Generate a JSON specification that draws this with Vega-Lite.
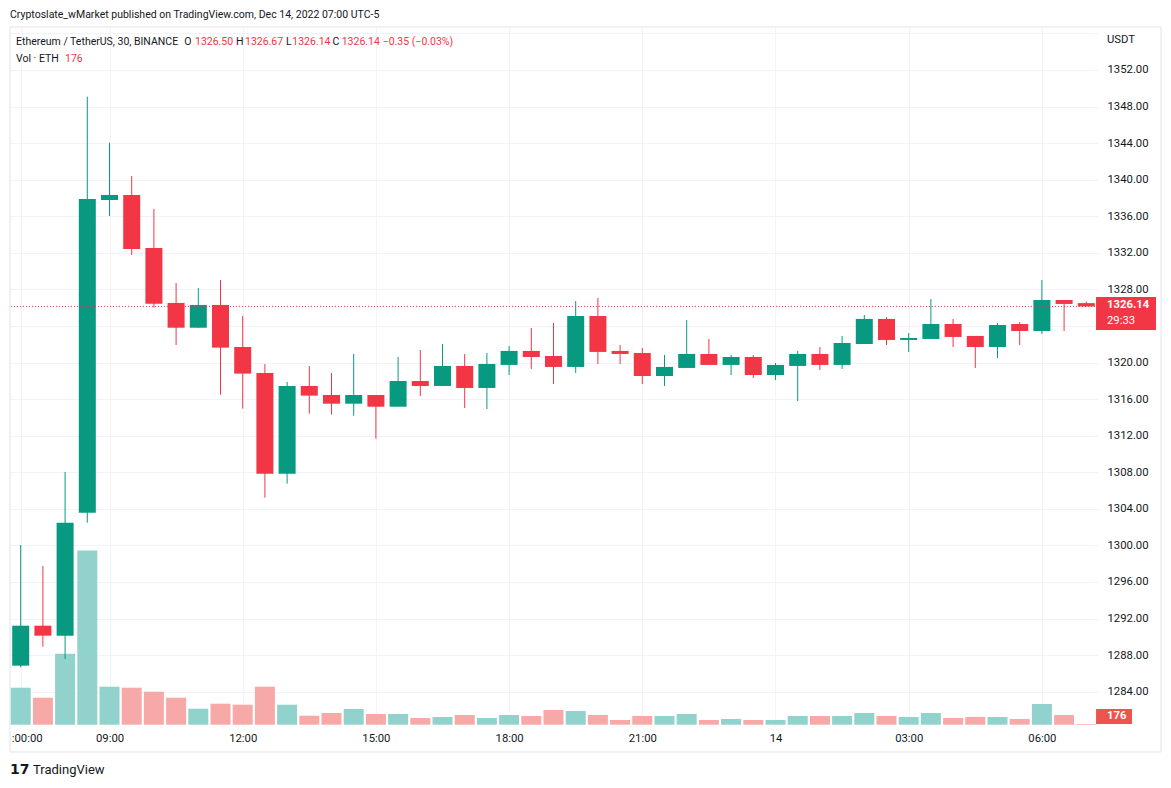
{
  "$schema": "https://vega.github.io/schema/vega-lite/v6.json",
  "width": 1088,
  "height": 700,
  "autosize": {"type": "none"},
  "padding": {"left": 10, "top": 27, "right": 73, "bottom": 61},
  "background": "#ffffff",
  "config": {"view": {"stroke": null}},
  "data": {"values": [
    {"t": "2022-12-13T07:00:00Z", "open": 1286.85, "high": 1300.05, "low": 1286.68, "close": 1291.22, "volume": 9250},
    {"t": "2022-12-13T07:30:00Z", "open": 1291.22, "high": 1297.75, "low": 1288.92, "close": 1290.13, "volume": 6750},
    {"t": "2022-12-13T08:00:00Z", "open": 1290.13, "high": 1308.03, "low": 1287.58, "close": 1302.49, "volume": 17750},
    {"t": "2022-12-13T08:30:00Z", "open": 1303.58, "high": 1349.08, "low": 1302.49, "close": 1337.89, "volume": 43575},
    {"t": "2022-12-13T09:00:00Z", "open": 1337.78, "high": 1344.05, "low": 1336.03, "close": 1338.33, "volume": 9500},
    {"t": "2022-12-13T09:30:00Z", "open": 1338.33, "high": 1340.41, "low": 1331.77, "close": 1332.42, "volume": 9250},
    {"t": "2022-12-13T10:00:00Z", "open": 1332.53, "high": 1336.80, "low": 1326.00, "close": 1326.44, "volume": 8250},
    {"t": "2022-12-13T10:30:00Z", "open": 1326.52, "high": 1328.70, "low": 1321.92, "close": 1323.81, "volume": 6750},
    {"t": "2022-12-13T11:00:00Z", "open": 1323.81, "high": 1328.16, "low": 1323.81, "close": 1326.30, "volume": 4000},
    {"t": "2022-12-13T11:30:00Z", "open": 1326.30, "high": 1329.03, "low": 1316.49, "close": 1321.63, "volume": 5250},
    {"t": "2022-12-13T12:00:00Z", "open": 1321.70, "high": 1325.10, "low": 1314.96, "close": 1318.79, "volume": 5000},
    {"t": "2022-12-13T12:30:00Z", "open": 1318.86, "high": 1319.84, "low": 1305.22, "close": 1307.85, "volume": 9500},
    {"t": "2022-12-13T13:00:00Z", "open": 1307.85, "high": 1317.88, "low": 1306.75, "close": 1317.44, "volume": 5000},
    {"t": "2022-12-13T13:30:00Z", "open": 1317.44, "high": 1319.62, "low": 1314.41, "close": 1316.38, "volume": 2250},
    {"t": "2022-12-13T14:00:00Z", "open": 1316.45, "high": 1318.86, "low": 1314.30, "close": 1315.50, "volume": 2925},
    {"t": "2022-12-13T14:30:00Z", "open": 1315.50, "high": 1320.94, "low": 1314.19, "close": 1316.45, "volume": 3925},
    {"t": "2022-12-13T15:00:00Z", "open": 1316.45, "high": 1316.45, "low": 1311.67, "close": 1315.17, "volume": 2675},
    {"t": "2022-12-13T15:30:00Z", "open": 1315.17, "high": 1320.61, "low": 1315.17, "close": 1317.98, "volume": 2675},
    {"t": "2022-12-13T16:00:00Z", "open": 1317.98, "high": 1321.38, "low": 1316.34, "close": 1317.44, "volume": 1675},
    {"t": "2022-12-13T16:30:00Z", "open": 1317.44, "high": 1322.03, "low": 1317.44, "close": 1319.63, "volume": 1925},
    {"t": "2022-12-13T17:00:00Z", "open": 1319.63, "high": 1320.94, "low": 1315.03, "close": 1317.22, "volume": 2425},
    {"t": "2022-12-13T17:30:00Z", "open": 1317.22, "high": 1321.05, "low": 1314.92, "close": 1319.84, "volume": 1675},
    {"t": "2022-12-13T18:00:00Z", "open": 1319.74, "high": 1321.81, "low": 1318.64, "close": 1321.27, "volume": 2425},
    {"t": "2022-12-13T18:30:00Z", "open": 1321.27, "high": 1323.78, "low": 1319.30, "close": 1320.61, "volume": 2175},
    {"t": "2022-12-13T19:00:00Z", "open": 1320.72, "high": 1324.33, "low": 1317.66, "close": 1319.52, "volume": 3675},
    {"t": "2022-12-13T19:30:00Z", "open": 1319.52, "high": 1326.73, "low": 1318.86, "close": 1325.09, "volume": 3425},
    {"t": "2022-12-13T20:00:00Z", "open": 1325.09, "high": 1327.06, "low": 1319.84, "close": 1321.16, "volume": 2425},
    {"t": "2022-12-13T20:30:00Z", "open": 1321.27, "high": 1321.92, "low": 1319.84, "close": 1320.94, "volume": 1175},
    {"t": "2022-12-13T21:00:00Z", "open": 1321.05, "high": 1321.59, "low": 1317.66, "close": 1318.53, "volume": 2175},
    {"t": "2022-12-13T21:30:00Z", "open": 1318.53, "high": 1320.83, "low": 1317.44, "close": 1319.52, "volume": 2175},
    {"t": "2022-12-13T22:00:00Z", "open": 1319.41, "high": 1324.66, "low": 1319.41, "close": 1320.94, "volume": 2675},
    {"t": "2022-12-13T22:30:00Z", "open": 1320.94, "high": 1322.58, "low": 1319.74, "close": 1319.74, "volume": 1175},
    {"t": "2022-12-13T23:00:00Z", "open": 1319.74, "high": 1320.83, "low": 1318.64, "close": 1320.61, "volume": 1425},
    {"t": "2022-12-13T23:30:00Z", "open": 1320.61, "high": 1320.83, "low": 1318.31, "close": 1318.64, "volume": 1175},
    {"t": "2022-12-14T00:00:00Z", "open": 1318.64, "high": 1319.95, "low": 1318.10, "close": 1319.74, "volume": 1175},
    {"t": "2022-12-14T00:30:00Z", "open": 1319.63, "high": 1321.27, "low": 1315.80, "close": 1320.94, "volume": 2175},
    {"t": "2022-12-14T01:00:00Z", "open": 1320.94, "high": 1321.70, "low": 1319.19, "close": 1319.74, "volume": 2175},
    {"t": "2022-12-14T01:30:00Z", "open": 1319.74, "high": 1322.91, "low": 1319.30, "close": 1322.14, "volume": 2175},
    {"t": "2022-12-14T02:00:00Z", "open": 1322.03, "high": 1325.20, "low": 1322.03, "close": 1324.77, "volume": 2925},
    {"t": "2022-12-14T02:30:00Z", "open": 1324.77, "high": 1324.98, "low": 1321.92, "close": 1322.47, "volume": 2175},
    {"t": "2022-12-14T03:00:00Z", "open": 1322.47, "high": 1323.23, "low": 1321.16, "close": 1322.69, "volume": 1925},
    {"t": "2022-12-14T03:30:00Z", "open": 1322.58, "high": 1326.95, "low": 1322.58, "close": 1324.22, "volume": 2925},
    {"t": "2022-12-14T04:00:00Z", "open": 1324.22, "high": 1324.77, "low": 1321.70, "close": 1322.80, "volume": 1675},
    {"t": "2022-12-14T04:30:00Z", "open": 1322.91, "high": 1322.91, "low": 1319.41, "close": 1321.70, "volume": 1925},
    {"t": "2022-12-14T05:00:00Z", "open": 1321.70, "high": 1324.33, "low": 1320.50, "close": 1324.11, "volume": 1925},
    {"t": "2022-12-14T05:30:00Z", "open": 1324.22, "high": 1324.44, "low": 1321.92, "close": 1323.45, "volume": 1425},
    {"t": "2022-12-14T06:00:00Z", "open": 1323.45, "high": 1329.03, "low": 1323.13, "close": 1326.84, "volume": 5175},
    {"t": "2022-12-14T06:30:00Z", "open": 1326.84, "high": 1326.84, "low": 1323.45, "close": 1326.41, "volume": 2425},
    {"t": "2022-12-14T07:00:00Z", "open": 1326.50, "high": 1326.67, "low": 1326.14, "close": 1326.14, "volume": 176}
  ]},
  "resolve": {"scale": {"y": "independent"}, "axis": {"y": "independent"}},
  "layer": [
    {
      "mark": {"type": "bar", "width": 20},
      "encoding": {
        "x": {"field": "t", "type": "temporal",
          "scale": {"type": "utc", "nice": false, "padding": 0,
            "domain": [{"year": 2022, "month": 12, "date": 13, "hours": 6, "minutes": 45, "seconds": 32, "utc": true},
                       {"year": 2022, "month": 12, "date": 14, "hours": 7, "minutes": 15, "seconds": 49, "utc": true}]},
          "axis": {
            "orient": "bottom", "title": null, "domain": false, "ticks": false, "tickSize": 0,
            "grid": true, "gridColor": "#F0F3FA", "gridWidth": 1,
            "labelFont": "Roboto", "labelFontSize": 11.3, "labelColor": "#131722",
            "labelPadding": 11, "labelBaseline": "middle", "labelFlush": false, "labelOverlap": false,
            "values": [
              {"year": 2022, "month": 12, "date": 13, "hours": 7, "utc": true},
              {"year": 2022, "month": 12, "date": 13, "hours": 9, "utc": true},
              {"year": 2022, "month": 12, "date": 13, "hours": 12, "utc": true},
              {"year": 2022, "month": 12, "date": 13, "hours": 15, "utc": true},
              {"year": 2022, "month": 12, "date": 13, "hours": 18, "utc": true},
              {"year": 2022, "month": 12, "date": 13, "hours": 21, "utc": true},
              {"year": 2022, "month": 12, "date": 14, "hours": 0, "utc": true},
              {"year": 2022, "month": 12, "date": 14, "hours": 3, "utc": true},
              {"year": 2022, "month": 12, "date": 14, "hours": 6, "utc": true}
            ],
            "labelExpr": "utchours(datum.value) == 7 ? ':00:00' : (utchours(datum.value) == 0 ? '14' : utcFormat(datum.value, '%H:%M'))",
            "labelOffset": {"condition": {"test": "utchours(datum.value) == 7", "value": 6}, "value": 0}
          }
        },
        "y": {"field": "volume", "type": "quantitative",
          "scale": {"domain": [-575, 174425], "nice": false, "zero": false}, "axis": null},
        "y2": {"datum": 0},
        "color": {"condition": {"test": "datum.close >= datum.open", "value": "#92D2CC"}, "value": "#F7A9A7"}
      }
    },
    {
      "mark": {"type": "rule", "strokeWidth": 1, "opacity": 1},
      "encoding": {
        "x": {"field": "t", "type": "temporal"},
        "y": {"field": "low", "type": "quantitative",
          "scale": {"domain": [1280.14, 1356.70], "nice": false, "zero": false},
          "axis": {
            "orient": "right", "title": null, "domain": false, "ticks": false, "tickSize": 0,
            "grid": true, "gridColor": "#F0F3FA", "gridWidth": 1,
            "values": [1284, 1288, 1292, 1296, 1300, 1304, 1308, 1312, 1316, 1320, 1324, 1328, 1332, 1336, 1340, 1344, 1348, 1352, 1356],
            "labelExpr": "(datum.value > 1354 || datum.value == 1324) ? '' : format(datum.value, '.2f')",
            "labelFont": "Roboto", "labelFontSize": 11.3, "labelColor": "#131722",
            "labelPadding": 9, "labelFlush": false, "labelOverlap": false
          }
        },
        "y2": {"field": "high"},
        "stroke": {"condition": {"test": "datum.close >= datum.open", "value": "#089981"}, "value": "#F23645"}
      }
    },
    {
      "mark": {"type": "bar", "width": 17},
      "encoding": {
        "x": {"field": "t", "type": "temporal"},
        "y": {"field": "open", "type": "quantitative",
          "scale": {"domain": [1280.14, 1356.70], "nice": false, "zero": false}, "axis": null},
        "y2": {"field": "close"},
        "color": {"condition": {"test": "datum.close >= datum.open", "value": "#089981"}, "value": "#F23645"}
      }
    },
    {
      "data": {"values": [{}]},
      "mark": {"type": "rect", "fill": null, "fillOpacity": 0, "stroke": "#E0E3EB", "strokeWidth": 1},
      "encoding": {
        "x": {"datum": {"year": 2022, "month": 12, "date": 13, "hours": 6, "minutes": 45, "seconds": 32, "utc": true}, "type": "temporal"},
        "x2": {"datum": {"year": 2022, "month": 12, "date": 14, "hours": 8, "minutes": 40, "seconds": 57, "utc": true}},
        "y": {"datum": 1356.70, "type": "quantitative", "scale": {"domain": [1280.14, 1356.70], "nice": false, "zero": false}, "axis": null},
        "y2": {"datum": 1277.41}
      }
    },
    {
      "data": {"values": [{}]},
      "mark": {"type": "rule", "color": "#F23645", "strokeWidth": 1, "strokeDash": [1, 2]},
      "encoding": {
        "y": {"datum": 1326.14, "type": "quantitative", "scale": {"domain": [1280.14, 1356.70], "nice": false, "zero": false}, "axis": null}
      }
    },
    {
      "data": {"values": [{}]},
      "mark": {"type": "rect", "color": "#F23645"},
      "encoding": {
        "x": {"datum": {"year": 2022, "month": 12, "date": 14, "hours": 7, "minutes": 13, "seconds": 10, "utc": true}, "type": "temporal"},
        "x2": {"datum": {"year": 2022, "month": 12, "date": 14, "hours": 8, "minutes": 34, "seconds": 12, "utc": true}},
        "y": {"datum": 1327.17, "type": "quantitative", "scale": {"domain": [1280.14, 1356.70], "nice": false, "zero": false}, "axis": null},
        "y2": {"datum": 1323.56}
      }
    },
    {
      "data": {"values": [{}]},
      "mark": {"type": "rect", "color": "#EF5350"},
      "encoding": {
        "x": {"datum": {"year": 2022, "month": 12, "date": 14, "hours": 7, "minutes": 13, "seconds": 10, "utc": true}, "type": "temporal"},
        "x2": {"datum": {"year": 2022, "month": 12, "date": 14, "hours": 8, "minutes": 1, "seconds": 48, "utc": true}},
        "y": {"datum": 1282.11, "type": "quantitative", "scale": {"domain": [1280.14, 1356.70], "nice": false, "zero": false}, "axis": null},
        "y2": {"datum": 1280.47}
      }
    },
    {
      "data": {"values": [{}]},
      "mark": {"type": "text", "text": "1326.14", "align": "left", "baseline": "middle", "dx": 9, "font": "Roboto", "fontSize": 11.3, "fontWeight": "bold", "color": "#ffffff"},
      "encoding": {
        "x": {"datum": {"year": 2022, "month": 12, "date": 14, "hours": 7, "minutes": 15, "seconds": 49, "utc": true}, "type": "temporal"},
        "y": {"datum": 1326.30, "type": "quantitative", "scale": {"domain": [1280.14, 1356.70], "nice": false, "zero": false}, "axis": null}
      }
    },
    {
      "data": {"values": [{}]},
      "mark": {"type": "text", "text": "29:33", "align": "left", "baseline": "middle", "dx": 9, "font": "Roboto", "fontSize": 11.3, "color": "#ffffff"},
      "encoding": {
        "x": {"datum": {"year": 2022, "month": 12, "date": 14, "hours": 7, "minutes": 15, "seconds": 49, "utc": true}, "type": "temporal"},
        "y": {"datum": 1324.55, "type": "quantitative", "scale": {"domain": [1280.14, 1356.70], "nice": false, "zero": false}, "axis": null}
      }
    },
    {
      "data": {"values": [{}]},
      "mark": {"type": "text", "text": "176", "align": "left", "baseline": "middle", "dx": 9, "font": "Roboto", "fontSize": 11.3, "fontWeight": "bold", "color": "#ffffff"},
      "encoding": {
        "x": {"datum": {"year": 2022, "month": 12, "date": 14, "hours": 7, "minutes": 15, "seconds": 49, "utc": true}, "type": "temporal"},
        "y": {"datum": 1281.29, "type": "quantitative", "scale": {"domain": [1280.14, 1356.70], "nice": false, "zero": false}, "axis": null}
      }
    },
    {
      "data": {"values": [{}]},
      "mark": {"type": "text", "text": "USDT", "align": "left", "baseline": "middle", "dx": 9, "font": "Roboto", "fontSize": 11.3, "color": "#131722"},
      "encoding": {
        "x": {"datum": {"year": 2022, "month": 12, "date": 14, "hours": 7, "minutes": 15, "seconds": 49, "utc": true}, "type": "temporal"},
        "y": {"datum": 1355.28, "type": "quantitative", "scale": {"domain": [1280.14, 1356.70], "nice": false, "zero": false}, "axis": null}
      }
    },
    {
      "data": {"values": [{}]},
      "mark": {"type": "text", "text": "Cryptoslate_wMarket published on TradingView.com, Dec 14, 2022 07:00 UTC-5", "align": "left", "baseline": "middle", "font": "Roboto", "fontSize": 10.5, "color": "#131722"},
      "encoding": {
        "x": {"datum": {"year": 2022, "month": 12, "date": 13, "hours": 6, "minutes": 45, "seconds": 32, "utc": true}, "type": "temporal"},
        "y": {"datum": 1358.02, "type": "quantitative", "scale": {"domain": [1280.14, 1356.70], "nice": false, "zero": false}, "axis": null}
      }
    },
    {
      "data": {"values": [{}]},
      "mark": {"type": "text", "text": "Ethereum / TetherUS, 30, BINANCE", "align": "left", "baseline": "middle", "dx": 6, "font": "Roboto", "fontSize": 10.5, "color": "#131722"},
      "encoding": {
        "x": {"datum": {"year": 2022, "month": 12, "date": 13, "hours": 6, "minutes": 45, "seconds": 32, "utc": true}, "type": "temporal"},
        "y": {"datum": 1355.06, "type": "quantitative", "scale": {"domain": [1280.14, 1356.70], "nice": false, "zero": false}, "axis": null}
      }
    },
    {
      "data": {"values": [{}]},
      "mark": {"type": "text", "text": "O", "align": "left", "baseline": "middle", "dx": 174.3, "font": "Roboto", "fontSize": 10.5, "color": "#131722"},
      "encoding": {
        "x": {"datum": {"year": 2022, "month": 12, "date": 13, "hours": 6, "minutes": 45, "seconds": 32, "utc": true}, "type": "temporal"},
        "y": {"datum": 1355.06, "type": "quantitative", "scale": {"domain": [1280.14, 1356.70], "nice": false, "zero": false}, "axis": null}
      }
    },
    {
      "data": {"values": [{}]},
      "mark": {"type": "text", "text": "1326.50", "align": "left", "baseline": "middle", "dx": 185, "font": "Roboto", "fontSize": 10.5, "color": "#F23645"},
      "encoding": {
        "x": {"datum": {"year": 2022, "month": 12, "date": 13, "hours": 6, "minutes": 45, "seconds": 32, "utc": true}, "type": "temporal"},
        "y": {"datum": 1355.06, "type": "quantitative", "scale": {"domain": [1280.14, 1356.70], "nice": false, "zero": false}, "axis": null}
      }
    },
    {
      "data": {"values": [{}]},
      "mark": {"type": "text", "text": "H", "align": "left", "baseline": "middle", "dx": 226, "font": "Roboto", "fontSize": 10.5, "color": "#131722"},
      "encoding": {
        "x": {"datum": {"year": 2022, "month": 12, "date": 13, "hours": 6, "minutes": 45, "seconds": 32, "utc": true}, "type": "temporal"},
        "y": {"datum": 1355.06, "type": "quantitative", "scale": {"domain": [1280.14, 1356.70], "nice": false, "zero": false}, "axis": null}
      }
    },
    {
      "data": {"values": [{}]},
      "mark": {"type": "text", "text": "1326.67", "align": "left", "baseline": "middle", "dx": 235, "font": "Roboto", "fontSize": 10.5, "color": "#F23645"},
      "encoding": {
        "x": {"datum": {"year": 2022, "month": 12, "date": 13, "hours": 6, "minutes": 45, "seconds": 32, "utc": true}, "type": "temporal"},
        "y": {"datum": 1355.06, "type": "quantitative", "scale": {"domain": [1280.14, 1356.70], "nice": false, "zero": false}, "axis": null}
      }
    },
    {
      "data": {"values": [{}]},
      "mark": {"type": "text", "text": "L", "align": "left", "baseline": "middle", "dx": 276, "font": "Roboto", "fontSize": 10.5, "color": "#131722"},
      "encoding": {
        "x": {"datum": {"year": 2022, "month": 12, "date": 13, "hours": 6, "minutes": 45, "seconds": 32, "utc": true}, "type": "temporal"},
        "y": {"datum": 1355.06, "type": "quantitative", "scale": {"domain": [1280.14, 1356.70], "nice": false, "zero": false}, "axis": null}
      }
    },
    {
      "data": {"values": [{}]},
      "mark": {"type": "text", "text": "1326.14", "align": "left", "baseline": "middle", "dx": 282.3, "font": "Roboto", "fontSize": 10.5, "color": "#F23645"},
      "encoding": {
        "x": {"datum": {"year": 2022, "month": 12, "date": 13, "hours": 6, "minutes": 45, "seconds": 32, "utc": true}, "type": "temporal"},
        "y": {"datum": 1355.06, "type": "quantitative", "scale": {"domain": [1280.14, 1356.70], "nice": false, "zero": false}, "axis": null}
      }
    },
    {
      "data": {"values": [{}]},
      "mark": {"type": "text", "text": "C", "align": "left", "baseline": "middle", "dx": 322.5, "font": "Roboto", "fontSize": 10.5, "color": "#131722"},
      "encoding": {
        "x": {"datum": {"year": 2022, "month": 12, "date": 13, "hours": 6, "minutes": 45, "seconds": 32, "utc": true}, "type": "temporal"},
        "y": {"datum": 1355.06, "type": "quantitative", "scale": {"domain": [1280.14, 1356.70], "nice": false, "zero": false}, "axis": null}
      }
    },
    {
      "data": {"values": [{}]},
      "mark": {"type": "text", "text": "1326.14", "align": "left", "baseline": "middle", "dx": 331.7, "font": "Roboto", "fontSize": 10.5, "color": "#F23645"},
      "encoding": {
        "x": {"datum": {"year": 2022, "month": 12, "date": 13, "hours": 6, "minutes": 45, "seconds": 32, "utc": true}, "type": "temporal"},
        "y": {"datum": 1355.06, "type": "quantitative", "scale": {"domain": [1280.14, 1356.70], "nice": false, "zero": false}, "axis": null}
      }
    },
    {
      "data": {"values": [{}]},
      "mark": {"type": "text", "text": "−0.35 (−0.03%)", "align": "left", "baseline": "middle", "dx": 372.7, "font": "Roboto", "fontSize": 10.5, "color": "#F23645"},
      "encoding": {
        "x": {"datum": {"year": 2022, "month": 12, "date": 13, "hours": 6, "minutes": 45, "seconds": 32, "utc": true}, "type": "temporal"},
        "y": {"datum": 1355.06, "type": "quantitative", "scale": {"domain": [1280.14, 1356.70], "nice": false, "zero": false}, "axis": null}
      }
    },
    {
      "data": {"values": [{}]},
      "mark": {"type": "text", "text": "Vol · ETH", "align": "left", "baseline": "middle", "dx": 6, "font": "Roboto", "fontSize": 10.5, "color": "#131722"},
      "encoding": {
        "x": {"datum": {"year": 2022, "month": 12, "date": 13, "hours": 6, "minutes": 45, "seconds": 32, "utc": true}, "type": "temporal"},
        "y": {"datum": 1353.2, "type": "quantitative", "scale": {"domain": [1280.14, 1356.70], "nice": false, "zero": false}, "axis": null}
      }
    },
    {
      "data": {"values": [{}]},
      "mark": {"type": "text", "text": "176", "align": "left", "baseline": "middle", "dx": 55, "font": "Roboto", "fontSize": 10.5, "color": "#F23645"},
      "encoding": {
        "x": {"datum": {"year": 2022, "month": 12, "date": 13, "hours": 6, "minutes": 45, "seconds": 32, "utc": true}, "type": "temporal"},
        "y": {"datum": 1353.2, "type": "quantitative", "scale": {"domain": [1280.14, 1356.70], "nice": false, "zero": false}, "axis": null}
      }
    },
    {
      "data": {"values": [{}]},
      "mark": {"type": "text", "text": "17", "align": "left", "baseline": "middle", "font": "DejaVu Sans", "fontSize": 14, "fontWeight": "bold", "color": "#131722"},
      "encoding": {
        "x": {"datum": {"year": 2022, "month": 12, "date": 13, "hours": 6, "minutes": 45, "seconds": 32, "utc": true}, "type": "temporal"},
        "y": {"datum": 1275.44, "type": "quantitative", "scale": {"domain": [1280.14, 1356.70], "nice": false, "zero": false}, "axis": null}
      }
    },
    {
      "data": {"values": [{}]},
      "mark": {"type": "text", "text": "TradingView", "align": "left", "baseline": "middle", "dx": 23, "font": "Roboto", "fontSize": 13, "color": "#131722"},
      "encoding": {
        "x": {"datum": {"year": 2022, "month": 12, "date": 13, "hours": 6, "minutes": 45, "seconds": 32, "utc": true}, "type": "temporal"},
        "y": {"datum": 1275.44, "type": "quantitative", "scale": {"domain": [1280.14, 1356.70], "nice": false, "zero": false}, "axis": null}
      }
    }
  ]
}
